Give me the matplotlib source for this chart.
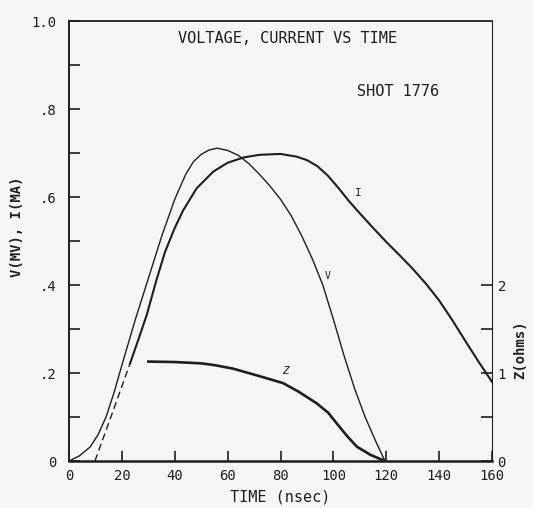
import numpy as np
import matplotlib.pyplot as plt
from matplotlib.ticker import MultipleLocator, FixedLocator

# voltage (MV) vs time (nsec)
t_v = [0, 4, 8, 11, 14, 17, 20, 25, 30, 35, 40, 44, 47, 50, 53, 56, 60, 64, 68, 72,
       76, 80, 84, 88, 92, 96, 100, 104, 108, 112, 116, 119.5]
v = [0, 0.012, 0.032, 0.06, 0.10, 0.155, 0.218, 0.32, 0.415, 0.51, 0.595, 0.65, 0.68,
     0.697, 0.707, 0.711, 0.706, 0.695, 0.676, 0.652, 0.625, 0.595, 0.558, 0.512, 0.46,
     0.40, 0.322, 0.24, 0.165, 0.10, 0.045, 0.0]

# current (MA) vs time, dashed extrapolation at the start
t_i_dash = [9.8, 16.8, 23.1]
i_dash = [0.0, 0.116, 0.222]
t_i = [23.1, 26, 29.4, 33, 36.3, 40, 43.2, 48.3, 54.6, 60, 66, 72, 80, 86, 90, 94,
       98, 102, 106, 110, 115, 120, 125, 130, 135, 140, 145, 150, 155, 160]
i = [0.222, 0.272, 0.332, 0.41, 0.475, 0.53, 0.57, 0.62, 0.658, 0.678, 0.690, 0.696,
     0.698, 0.692, 0.684, 0.670, 0.648, 0.62, 0.59, 0.563, 0.53, 0.498, 0.468, 0.437,
     0.403, 0.365, 0.32, 0.272, 0.225, 0.18]

# impedance (ohms) vs time
t_z = [30, 40, 50, 55, 62, 68.5, 76, 81, 87, 93.7, 98, 101.2, 105, 108.8, 114, 119.5]
z = [1.13, 1.125, 1.11, 1.09, 1.05, 0.995, 0.93, 0.885, 0.785, 0.655, 0.55, 0.43, 0.29,
     0.165, 0.07, 0.0]

x_ticks = [0, 20, 40, 60, 80, 100, 120, 140, 160]

ink = '#1e1e1e'
bg = '#f6f6f6'
plt.rcParams['font.family'] = 'DejaVu Sans Mono'

fig = plt.figure(figsize=(5.33, 5.08), dpi=100, facecolor=bg)
ax = fig.add_axes([0.1295, 0.0925, 0.7936, 0.866], facecolor=bg)

ax.plot(t_v, v, color=ink, lw=1.0)
ax.plot(t_i, i, color=ink, lw=1.5)
ax.plot(t_i_dash, i_dash, color=ink, lw=1.0, ls=(0, (5, 3)))

# impedance on its own scale, 0-5 ohms spans the full height
az = ax.twinx()
az.plot(t_z, z, color=ink, lw=1.9)
az.set_ylim(0, 5)
az.yaxis.set_major_locator(FixedLocator([0, 1, 2]))
az.yaxis.set_minor_locator(FixedLocator([0.5, 1.5]))
az.tick_params(axis='y', which='both', direction='in', length=8, width=1.2, color=ink,
               labelcolor=ink, labelsize=10, pad=4)
for s in az.spines.values():
    s.set_visible(False)

ax.set_xlim(0, 160)
ax.set_ylim(0, 1.0)
ax.xaxis.set_major_locator(FixedLocator(x_ticks))
ax.set_xticklabels([str(x) for x in x_ticks])
ax.yaxis.set_major_locator(FixedLocator([0, 0.2, 0.4, 0.6, 0.8, 1.0]))
ax.yaxis.set_minor_locator(MultipleLocator(0.1))
ax.set_yticklabels(['0', '.2', '.4', '.6', '.8', '1.0'])
ax.tick_params(axis='both', which='both', direction='in', color=ink, labelcolor=ink,
               labelsize=10, width=1.2)
ax.tick_params(axis='y', which='both', length=8, pad=9)
ax.tick_params(axis='x', length=7, pad=6)

ax.spines['left'].set_linewidth(1.4)
ax.spines['bottom'].set_linewidth(1.8)
ax.spines['top'].set_linewidth(1.3)
ax.spines['right'].set_linewidth(0.8)
for s in ax.spines.values():
    s.set_color(ink)

ax.text(82.8, 0.96, 'VOLTAGE, CURRENT VS TIME', ha='center', va='center', fontsize=11, color=ink)
ax.text(124.5, 0.84, 'SHOT 1776', ha='center', va='center', fontsize=11, color=ink)
ax.text(109.3, 0.61, 'I', ha='center', va='center', fontsize=8, color=ink)
ax.text(98, 0.42, 'V', ha='center', va='center', fontsize=7, color=ink)
ax.text(81.7, 0.205, 'Z', ha='center', va='center', fontsize=8, color=ink, style='italic')

fig.text(17 / 533, 1 - 227 / 508, 'V(MV), I(MA)', rotation=90, ha='center', va='center',
         fontsize=10, fontweight='bold', color=ink)
fig.text(520 / 533, 1 - 350 / 508, 'Z(ohms)', rotation=90, ha='center', va='center',
         fontsize=10, fontweight='bold', color=ink)
fig.text(280 / 533, 1 - 497 / 508, 'TIME (nsec)', ha='center', va='center',
         fontsize=11, color=ink)

fig.savefig('out.png', dpi=100, facecolor=bg)
